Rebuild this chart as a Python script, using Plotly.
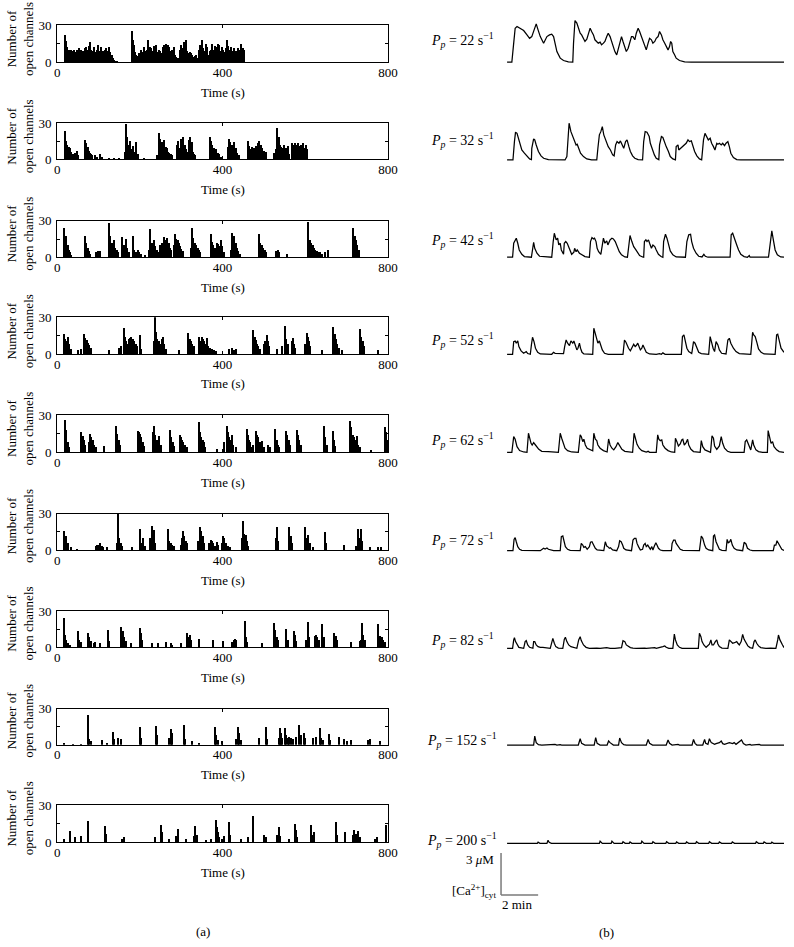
import plotly.graph_objects as go

# ---------------- DATA ----------------
# Left column: number of open channels (time s, count)
pp_labels = ["22", "32", "42", "52", "62", "72", "82", "152", "200"]
x_ticks = [0, 400, 800]
y_ticks = [0, 15, 30]
y_ticktext = ["0", " ", "30"]

open_22 = [(19,22),(20,20),(23,17),(25,12),(28,10),(32,9),(35,10),(38,9),(41,10),(44,8),(48,10),(51,9),(54,11),(57,10),(61,8),(64,9),(67,11),(70,12),(74,10),(77,13),(80,16),(83,10),(86,9),(90,12),(93,8),(96,10),(99,14),(103,9),(106,12),(109,8),(112,9),(116,10),(119,11),(122,9),(125,12),(128,8),(132,6),(135,3),(138,2),(141,1),(145,1),
           (182,25),(184,18),(187,14),(189,8),(191,6),(195,5),(198,7),(201,4),(204,10),(208,8),(211,12),(214,9),(217,10),(221,18),(224,12),(227,11),(230,9),(234,13),(237,11),(240,14),(243,8),(246,10),(250,9),(253,7),(256,12),(259,14),(263,15),(266,13),(269,14),(272,12),(276,9),(279,10),(282,12),(285,6),(288,4),(292,3),(295,2),(298,10),(301,14),(305,11),(308,16),(311,18),(314,9),(318,7),(321,8),(324,7),(327,6),(330,4),(334,5),(337,6),(340,3),(343,10),(347,14),(350,18),(353,11),(356,9),(360,15),(363,12),(366,6),(369,9),(372,10),(376,15),(379,10),(382,13),(385,12),(389,15),(392,14),(395,9),(398,12),(402,10),(405,8),(408,11),(411,18),(414,13),(418,10),(421,12),(424,9),(427,11),(431,8),(434,9),(437,11),(440,10),(444,15),(447,10),(450,11),(452,10)]

open_32 = [(19,23),(22,15),(25,12),(28,10),(31,9),(35,6),(38,4),(43,5),(48,7),(52,3),
           (69,16),(71,13),(74,10),(77,7),(80,5),(83,4),(86,3),(91,3),(97,2),(105,4),(109,2),
           (125,1),(137,1),(149,1),
           (164,6),(168,29),(170,18),(174,12),(177,15),(180,8),(183,11),(187,6),(191,14),(195,4),(210,1),
           (242,3),(246,22),(250,17),(253,14),(256,12),(259,16),(263,10),(266,9),(269,6),(272,5),(275,4),(279,3),
           (291,12),(293,15),(296,9),(300,17),(303,10),(306,18),(310,12),(313,8),(316,6),(319,16),(322,18),(326,14),(329,6),(332,4),(335,3),
           (370,18),(372,15),(376,12),(379,9),(382,7),(385,8),(389,5),(392,4),(397,2),
           (414,10),(416,17),(419,14),(423,12),(426,8),(429,14),(432,9),(435,5),(440,3),
           (461,15),(465,11),(468,8),(471,10),(474,9),(477,9),(481,11),(485,13),(489,15),(493,12),(497,9),(501,7),(505,6),
           (525,5),(529,8),(533,26),(536,18),(539,12),(542,10),(545,9),(549,12),(552,8),(555,9),(558,11),(562,4),
           (568,13),(571,12),(576,13),(579,12),(584,13),(587,11),(591,12),(595,13),(599,9),(602,12),(604,8)]

open_42 = [(18,24),(20,14),(23,18),(26,10),(28,6),(31,4),(35,2),
           (69,18),(71,12),(74,8),(77,5),(80,3),(94,4),(99,5),(105,5),
           (127,28),(129,18),(132,12),(135,10),(138,14),(141,8),(145,6),(148,4),
           (158,17),(161,10),(164,6),(167,15),(170,8),(174,4),
           (183,18),(187,6),(190,4),(195,6),(198,4),(204,3),(214,2),
           (222,6),(226,23),(229,12),(232,10),(235,14),(238,9),(242,6),(245,4),
           (250,10),(254,12),(259,17),(261,14),(264,10),(267,16),(271,12),(274,8),(277,6),
           (282,10),(285,19),(288,15),(292,14),(295,12),(298,9),(301,7),(305,5),
           (323,8),(327,24),(330,16),(334,12),(337,10),(340,8),(343,6),(347,4),
           (372,19),(374,13),(377,10),(381,8),(384,7),(387,12),(390,11),(393,9),(397,14),(400,9),(404,4),
           (420,6),(424,20),(427,15),(429,18),(432,12),(435,8),(439,5),(442,3),
           (489,19),(492,12),(495,10),(498,8),(502,6),(505,4),
           (529,5),(534,6),(537,4),(557,3),
           (606,29),(608,16),(612,14),(615,12),(618,10),(621,8),(625,6),(628,5),(631,4),(636,4),(642,3),(649,4),(655,6),
           (715,12),(717,24),(720,18),(723,14),(726,10),(730,6)]

open_52 = [(18,16),(20,12),(23,10),(27,14),(30,8),(33,4),(51,3),(57,4),
           (66,16),(69,13),(72,11),(75,9),(78,7),(82,5),(125,3),(151,5),(156,6),
           (161,21),(164,14),(167,10),(170,8),(174,12),(177,13),(180,14),(183,12),(187,10),(190,8),(193,6),(200,15),(203,4),
           (234,10),(237,30),(240,18),(243,12),(246,10),(250,8),(253,12),(256,14),(259,8),(263,4),(295,3),
           (318,17),(321,12),(324,10),(327,8),(331,6),
           (343,14),(347,10),(350,14),(353,12),(356,10),(360,8),(363,13),(366,6),(369,5),(374,4),(379,3),(384,2),
           (416,4),(423,5),(429,3),(434,4),
           (474,19),(478,14),(481,11),(484,8),(487,6),(491,4),
           (500,8),(503,10),(507,15),(510,10),(513,6),(533,4),
           (545,6),(552,23),(555,12),(558,8),(568,10),(570,13),(573,8),(576,5),
           (600,8),(604,17),(607,14),(610,10),(613,6),(641,3),
           (668,22),(672,16),(675,12),(678,8),(681,5),(689,3),
           (733,20),(736,14),(739,10),(743,6),(776,3)]

open_62 = [(19,26),(21,18),(23,12),(27,8),(30,4),
           (57,16),(59,15),(62,13),(65,10),(69,6),
           (77,8),(81,15),(83,12),(87,10),(90,6),(95,4),(113,5),
           (144,21),(146,15),(150,10),(153,6),
           (196,17),(199,16),(201,15),(204,12),(208,8),(211,5),
           (232,16),(235,21),(238,14),(242,10),(245,8),(248,13),(251,6),
           (274,18),(277,12),(280,8),(284,5),
           (297,14),(300,12),(303,10),(306,8),(310,6),(314,4),
           (343,24),(346,16),(348,12),(352,10),(355,8),(358,4),(388,3),
           (404,8),(410,21),(413,16),(416,12),(419,10),(423,14),(426,6),(432,4),
           (459,19),(461,14),(465,10),(468,8),(471,4),
           (474,6),(481,17),(484,14),(487,12),(491,8),(494,6),(497,9),(500,4),(510,6),(515,4),
           (528,19),(531,10),(534,6),(537,4),
           (554,17),(557,14),(560,10),(563,6),
           (580,18),(583,14),(586,10),(589,6),
           (646,21),(649,12),(652,6),(667,17),(670,10),(673,5),
           (709,25),(712,20),(715,14),(718,12),(722,10),(725,13),(728,6),(733,4),(760,2),
           (794,20),(796,16),(798,10)]

open_72 = [(18,16),(20,10),(23,12),(27,6),(33,3),(49,1),
           (95,4),(98,5),(101,5),(104,6),(108,4),(111,3),(121,3),
           (145,6),(148,30),(151,10),(154,6),(158,4),(182,3),
           (202,18),(205,6),(209,10),(212,4),
           (226,10),(229,20),(232,12),(235,17),(238,6),
           (268,18),(272,8),(275,6),(278,5),(282,4),
           (299,5),(303,10),(305,16),(308,12),(311,8),(314,6),
           (342,8),(345,19),(348,16),(352,12),(355,6),
           (368,6),(372,9),(375,8),(378,6),(381,4),(386,7),(390,5),
           (398,6),(402,12),(405,10),(408,6),(413,4),(418,3),
           (448,10),(450,24),(453,14),(457,13),(460,8),(463,4),
           (529,10),(531,19),(534,8),(560,12),(562,19),(565,12),(568,6),
           (600,19),(602,10),(608,13),(612,6),(618,3),
           (647,15),(650,6),(695,5),
           (722,4),(727,18),(732,10),(735,18),(738,8),
           (756,3),(776,3),(784,3)]

open_82 = [(18,24),(20,10),(23,6),(27,3),(32,2),
           (51,13),(54,6),(57,4),
           (75,12),(78,8),(82,5),(89,3),(93,4),(105,3),
           (124,14),(127,5),
           (156,17),(159,13),(162,8),(166,5),(179,3),
           (200,16),(203,12),(206,6),
           (230,3),(245,3),(263,4),(275,3),(279,2),(299,3),
           (314,12),(318,8),(321,10),(324,6),(343,7),(377,6),(402,5),
           (423,4),(427,6),(431,7),(434,6),
           (454,22),(457,8),(460,4),(497,3),
           (525,20),(528,14),(531,8),(534,6),
           (555,15),(558,6),(574,13),(576,10),(579,5),
           (602,6),(607,21),(610,8),
           (623,9),(626,10),(629,8),(633,6),
           (642,19),(646,8),(671,12),(675,9),(678,6),(711,4),
           (732,5),(735,6),(738,20),(741,10),(744,6),
           (776,19),(778,8),(781,9),(785,8),(788,6),(792,4)]

open_152 = [(18,2),(40,1),(57,1),
            (75,25),(78,5),(82,3),(108,4),(121,2),
            (135,11),(138,5),(147,6),(154,5),
            (200,15),(203,6),(240,16),(243,8),
            (272,6),(276,13),(279,10),(307,17),(310,5),(327,3),(343,2),
            (382,15),(385,8),(389,4),(400,3),
            (434,5),(437,15),(440,10),(444,4),(489,6),
            (506,15),(508,5),
            (536,6),(539,14),(542,10),(545,6),
            (552,14),(555,8),(558,6),(562,7),(566,6),(571,5),(578,7),
            (586,17),(589,8),(597,10),(600,6),(618,6),(626,7),
            (636,14),(639,6),(644,4),(657,9),(660,4),
            (683,7),(695,5),(701,3),(711,4),(751,4),(756,5),(780,3)]

open_200 = [(16,3),(32,9),(43,4),(57,5),(75,17),
            (116,13),(119,7),(158,3),(162,4),(237,4),
            (252,14),(255,8),(271,3),(289,5),(292,11),(311,3),
            (331,5),(335,13),(339,6),(360,2),(372,3),
            (384,18),(386,12),(390,8),(393,4),(400,3),(405,5),
            (415,16),(418,6),(444,3),(463,4),(473,21),
            (501,6),(505,4),(533,6),(536,12),(539,5),(560,3),
            (575,15),(578,10),(581,4),(614,14),(618,6),(621,8),
            (675,16),(677,6),(697,8),
            (717,6),(719,10),(723,7),(727,9),(732,4),
            (768,3),(773,4),(796,14)]

# Right column: cytosolic Ca2+ (time s, concentration uM)
ca_22 = [(0,0),(13,0),(18,1.36),(22,2.43),(27,2.55),(31,2.48),(36,2.36),(45,2.26),(54,1.95),(61,1.71),(67,1.83),(72,2.19),(79,2.74),(84,2.31),(90,1.83),(99,1.36),(103,1.6),(108,1.83),(115,1.95),(121,2.0),(126,1.83),(130,1.36),(135,0.76),(144,0.29),(153,0.12),(166,0.02),(178,0),
         (180,1.36),(184,2.98),(189,2.79),(193,2.43),(198,2.07),(202,1.95),(207,1.71),(211,1.48),(216,1.64),(220,2.07),(225,2.43),(229,2.19),(234,1.95),(238,1.6),(243,1.48),(247,1.36),(252,1.43),(256,1.24),(261,1.36),(265,1.48),(270,1.83),(274,2.07),(279,1.83),(283,1.48),(288,1.12),(292,0.76),(297,0.52),(301,0.88),(305,1.36),(310,1.83),(314,1.48),(319,1.12),(323,0.76),(328,1.0),(332,1.48),(337,1.83),(341,1.83),(346,1.6),(350,2.07),(355,2.43),(359,2.19),(364,1.83),(368,1.48),(373,1.12),(377,0.88),(382,1.36),(386,1.71),(391,1.6),(395,1.36),(400,1.48),(404,1.71),(409,1.83),(413,2.19),(418,1.95),(422,1.6),(427,1.36),(431,1.12),(436,0.88),(440,1.12),(443,1.48),(446,1.36),(449,0.76),(454,0.52),(458,0.29),(467,0.12),(481,0.02),(499,0),(750,0)]

ca_32 = [(0,0),(16,0),(20,1.31),(23,1.98),(27,1.90),(31,1.55),(36,1.07),(40,0.71),(47,0.48),(54,0.24),(61,0.07),(66,0.02),(67,0.83),(72,1.50),(75,1.43),(79,1.07),(85,0.60),(92,0.29),(99,0.12),(112,0.02),(157,0),(162,0.24),(164,1.31),(168,2.62),(173,2.02),(178,1.67),(184,1.31),(187,1.07),(190,1.12),(194,0.83),(199,0.48),(207,0.24),(216,0.07),(229,0),(243,0),(246,0.83),(250,1.79),(254,2.02),(258,2.38),(262,1.79),(268,1.31),(274,0.95),(280,0.71),(286,0.36),(290,0.29),(294,1.07),(298,1.31),(303,1.19),(307,1.36),(312,1.07),(316,0.83),(321,1.31),(325,1.43),(330,0.95),(334,0.60),(340,0.29),(346,0.12),(355,0.02),(367,0),(370,1.31),(374,2.02),(379,1.98),(385,1.67),(388,1.19),(394,0.71),(399,0.36),(404,0.12),(411,0.02),(413,1.07),(418,1.67),(422,1.60),(427,1.31),(431,0.95),(437,0.60),(442,0.24),(449,0.07),(456,0),(458,0.95),(463,1.07),(465,0.71),(470,0.83),(474,0.95),(481,1.07),(485,1.19),(490,1.43),(494,1.31),(499,1.36),(503,0.95),(508,0.60),(514,0.29),(521,0.07),(527,0),(532,1.43),(536,1.90),(541,1.67),(545,1.43),(550,1.55),(554,1.19),(559,0.95),(563,0.71),(568,1.19),(571,1.12),(575,1.19),(580,1.07),(584,1.19),(589,1.02),(593,1.19),(598,1.31),(602,0.95),(606,0.48),(613,0.17),(622,0.02),(633,0),(750,0)]

ca_42 = [(0,0),(15,0),(18,1.0),(22,1.24),(25,1.36),(29,1.0),(33,0.52),(40,0.21),(47,0.05),(66,0),(69,0.76),(72,1.07),(75,0.64),(81,0.29),(88,0.07),(108,0),(121,0),(125,1.12),(128,1.71),(133,1.24),(137,1.36),(140,0.88),(144,1.0),(147,0.52),(153,0.21),(155,1.0),(159,1.12),(163,1.0),(166,0.76),(171,0.52),(175,0.21),(181,0.36),(183,0.64),(187,0.40),(190,0.52),(196,0.29),(202,0.17),(211,0.05),(223,0),(226,1.12),(230,1.40),(234,1.31),(237,1.36),(241,1.12),(244,0.64),(248,0.40),(254,0.21),(258,1.12),(261,1.36),(265,1.0),(270,1.17),(273,0.88),(279,1.24),(284,1.36),(288,1.31),(293,1.12),(298,0.76),(304,0.40),(310,0.17),(319,0.02),(326,0),(330,1.12),(333,1.55),(338,1.12),(343,0.76),(349,0.52),(354,0.29),(359,0.12),(367,0.02),(370,0),(372,1.12),(376,1.24),(379,1.12),(383,1.24),(386,1.0),(391,0.64),(395,0.88),(400,0.76),(404,0.52),(410,0.21),(417,0.05),(422,0),(424,1.12),(429,1.64),(433,1.36),(437,0.88),(442,0.45),(449,0.17),(458,0.02),(483,0),(487,1.12),(492,1.60),(497,1.64),(500,1.12),(505,0.64),(512,0.29),(519,0.07),(528,0.02),(533,0.21),(537,0.07),(544,0),(604,0),(607,1.60),(611,1.71),(615,1.36),(618,1.24),(622,0.88),(627,0.52),(633,0.21),(642,0.05),(651,0),(656,0.12),(658,0),(708,0),(712,0.88),(717,1.88),(722,1.12),(726,0.52),(732,0.17),(741,0.02),(750,0)]

ca_52 = [(0,0),(15,0),(18,0.90),(22,0.95),(25,0.79),(29,0.95),(32,0.55),(38,0.24),(45,0.07),(52,0.19),(56,0.05),(63,0),(66,0.67),(69,1.21),(73,0.90),(77,0.43),(83,0.14),(90,0.02),(121,0),(126,0.14),(130,0.07),(153,0.05),(156,0.55),(160,1.02),(164,0.79),(169,0.62),(173,0.95),(178,0.79),(181,0.95),(185,0.67),(189,0.31),(192,0.43),(196,0.79),(199,0.43),(203,0.14),(208,0.02),(232,0),(235,1.86),(239,1.38),(243,1.02),(246,0.79),(250,0.95),(253,0.67),(258,0.31),(264,0.07),(274,0),(314,0),(318,1.02),(322,0.86),(325,0.62),(329,0.43),(334,0.24),(338,0.43),(343,0.71),(347,0.55),(350,0.62),(354,0.79),(358,0.55),(361,0.31),(365,0.43),(368,0.67),(372,0.43),(377,0.14),(386,0.02),(404,0),(413,0.05),(418,0),(422,0.10),(428,0),(472,0),(475,1.26),(479,1.38),(483,0.79),(487,0.43),(492,0.19),(500,0.05),(501,0.19),(505,0.90),(509,0.79),(514,0.43),(519,0.14),(526,0.05),(546,0),(550,1.26),(554,0.79),(558,0.43),(562,0.19),(566,0.90),(571,0.67),(575,0.31),(581,0.07),(593,0.02),(598,1.02),(602,1.14),(606,0.79),(613,0.43),(620,0.19),(629,0.05),(660,0),(665,1.57),(668,1.38),(672,1.26),(677,0.79),(681,0.38),(688,0.14),(696,0.02),(726,0),(730,1.38),(733,1.43),(737,0.90),(742,0.43),(750,0.14)]

ca_62 = [(0,0),(13,0),(18,1.12),(22,0.93),(27,0.40),(34,0.12),(45,0.02),(54,0),(58,1.36),(61,0.93),(65,0.64),(68,0.52),(72,0.69),(77,0.52),(81,0.40),(86,0.21),(94,0.07),(108,0.02),(112,0.05),(139,0),(144,1.36),(148,1.0),(153,0.52),(157,0.29),(164,0.12),(175,0.02),(193,0),(198,1.24),(201,1.12),(205,0.76),(208,0.93),(212,0.52),(217,0.29),(225,0.17),(232,0.10),(235,1.36),(239,0.93),(243,0.83),(246,0.52),(252,0.29),(261,0.12),(271,0.02),(275,0.95),(279,0.52),(284,0.29),(289,0.17),(295,0.40),(300,0.69),(305,0.45),(311,0.21),(319,0.07),(328,0.02),(340,0),(344,1.36),(348,1.0),(352,0.57),(358,0.29),(365,0.12),(377,0.02),(382,0.07),(386,0),(404,0),(408,1.24),(411,0.93),(415,0.83),(419,0.88),(422,0.52),(428,0.29),(436,0.12),(445,0.02),(454,0),(456,1.0),(460,0.76),(464,0.45),(469,0.60),(473,0.88),(476,0.93),(480,0.52),(485,0.69),(489,0.93),(492,0.52),(498,0.21),(505,0.05),(514,0),(523,0),(526,0.83),(530,0.40),(536,0.17),(544,0.05),(551,0),(555,1.17),(559,1.0),(562,0.45),(568,0.21),(575,0.45),(580,1.12),(584,0.64),(589,0.29),(597,0.07),(606,0),(642,0),(645,0.76),(649,0.88),(654,0.52),(660,0.17),(665,0.88),(668,0.52),(674,0.17),(681,0.05),(692,0),(705,0),(707,1.55),(712,0.88),(715,0.64),(719,0.76),(723,0.40),(730,0.17),(737,0.05),(750,0)]

ca_72 = [(0,0),(16,0),(19,0.81),(22,0.93),(25,0.64),(29,0.29),(34,0.10),(40,0.02),(90,0),(94,0.10),(99,0.17),(103,0.12),(108,0.19),(112,0.10),(117,0.05),(126,0),(144,0),(147,1.0),(151,1.05),(155,0.64),(158,0.29),(164,0.10),(171,0.02),(198,0),(201,0.52),(205,0.40),(208,0.24),(212,0.29),(217,0.10),(223,0.29),(226,0.60),(230,0.64),(234,0.40),(239,0.17),(244,0.05),(262,0),(266,0.64),(270,0.33),(273,0.29),(277,0.17),(280,0.21),(286,0.05),(297,0),(302,0.29),(305,0.71),(309,0.64),(313,0.40),(316,0.17),(322,0.05),(337,0),(341,0.76),(345,0.88),(349,0.88),(352,0.52),(356,0.29),(361,0.05),(367,0.10),(370,0.40),(374,0.52),(377,0.29),(381,0.40),(385,0.17),(388,0.10),(392,0.29),(395,0.05),(399,0.33),(403,0.57),(406,0.40),(410,0.17),(415,0.05),(422,0),(445,0),(447,0.52),(451,0.76),(455,0.76),(458,0.52),(464,0.29),(469,0.10),(476,0.02),(521,0),(526,1.05),(530,0.88),(535,0.40),(539,0.17),(546,0.05),(557,0),(559,1.05),(562,1.12),(566,0.64),(571,0.29),(575,0.10),(582,0.02),(593,0),(596,0.81),(599,0.57),(603,0.64),(606,0.81),(610,0.40),(615,0.17),(622,0.05),(638,0),(642,0.60),(647,0.48),(651,0.17),(658,0.05),(665,0),(690,0),(694,0.05),(696,0),(721,0),(724,0.40),(728,0.40),(731,0.71),(735,0.52),(739,0.29),(744,0.10),(750,0.02)]

ca_82 = [(0,0),(15,0),(18,0.60),(20,0.76),(23,0.48),(27,0.24),(32,0.07),(45,0),(49,0.48),(52,0.55),(56,0.24),(61,0.07),(70,0),(72,0.48),(75,0.48),(79,0.24),(84,0.12),(90,0.07),(97,0.07),(117,0),(120,0.36),(124,0.71),(128,0.36),(132,0.12),(139,0.02),(151,0),(155,0.64),(158,0.79),(162,0.48),(167,0.24),(173,0.12),(180,0.05),(189,0),(194,0.60),(198,0.83),(201,0.55),(207,0.24),(214,0.07),(223,0),(243,0.02),(252,0),(270,0.05),(279,0),(292,0),(310,0.05),(314,0.55),(319,0.48),(323,0.24),(329,0.12),(334,0.05),(341,0.02),(350,0),(373,0.02),(377,0),(400,0.05),(404,0),(422,0.12),(427,0.17),(431,0.07),(438,0),(449,0),(453,1.02),(456,0.60),(461,0.24),(467,0.07),(474,0),(518,0),(521,1.07),(525,0.83),(528,0.48),(533,0.24),(539,0.07),(548,0.29),(552,0.60),(555,0.24),(559,0.24),(564,0.48),(568,0.60),(571,0.31),(575,0.12),(582,0.02),(598,0),(602,0.60),(606,0.48),(611,0.36),(616,0.40),(622,0.48),(625,0.36),(629,0.24),(634,0.48),(638,1.0),(642,0.64),(647,0.36),(652,0.17),(658,0.05),(665,0),(669,0.48),(672,0.60),(676,0.36),(681,0.17),(687,0.05),(701,0),(714,0.02),(728,0),(733,0.60),(735,0.95),(739,0.60),(742,0.48),(746,0.24),(750,0.05)]

ca_152 = [(0,0),(72,0),(75,0.64),(79,0.17),(85,0.02),(94,0),(130,0.05),(135,0),(144,0.02),(148,0),(193,0),(198,0.45),(202,0.12),(211,0),(236,0),(240,0.52),(244,0.12),(252,0),(271,0),(275,0.29),(279,0.17),(282,0.10),(288,0),(302,0),(305,0.50),(310,0.17),(316,0.02),(323,0),(377,0),(382,0.40),(386,0.12),(394,0),(431,0),(436,0.36),(440,0.12),(447,0),(463,0.05),(467,0),(501,0),(505,0.40),(509,0.12),(514,0),(530,0),(535,0.40),(538,0.12),(544,0.05),(548,0.45),(553,0.17),(557,0.10),(562,0.05),(566,0.10),(575,0.17),(580,0.29),(584,0.10),(589,0.05),(602,0.17),(611,0.10),(615,0.17),(620,0.05),(627,0.17),(631,0.29),(635,0.36),(640,0.10),(647,0),(658,0.05),(661,0),(683,0.05),(687,0),(750,0)]

ca_200 = [(0,0),(7,0),(9,0.05),(14,0),(47,0),(49,0.05),(54,0),(82,0),(84,0.08),(89,0),(108,0),(111,0.22),(114,0.08),(120,0),(250,0),(252,0.15),(258,0),(282,0),(284,0.15),(290,0),(312,0),(314,0.12),(320,0),(331,0),(333,0.1),(338,0),(363,0),(365,0.15),(371,0),(393,0),(395,0.12),(401,0),(430,0),(432,0.12),(438,0),(457,0),(459,0.1),(465,0),(484,0),(486,0.1),(492,0),(511,0),(513,0.12),(519,0),(546,0),(548,0.12),(554,0),(573,0),(575,0.1),(581,0),(608,0),(610,0.1),(616,0),(673,0),(675,0.12),(681,0),(694,0),(696,0.1),(702,0),(715,0),(717,0.08),(722,0),(750,0)]

open_series = [open_22, open_32, open_42, open_52, open_62, open_72, open_82, open_152, open_200]
ca_series = [ca_22, ca_32, ca_42, ca_52, ca_62, ca_72, ca_82, ca_152, ca_200]

# ---------------- LAYOUT ----------------
W, H = 794, 947
FONT = "Liberation Serif"
# target pixel positions (as seen in the finished picture)
left_top = [25.3, 123.3, 221, 317.3, 415, 513.7, 611.3, 708.7, 805]
left_bot = [62.3, 159.3, 257.3, 354, 452.3, 550.3, 647.3, 744.7, 842.3]
right_base = [62.3, 160, 257.3, 354.3, 452.3, 550.7, 648.3, 745, 843.3]
LX0, LX1 = 58, 388
RX0, RX1 = 506.7, 783.9
PX_PER_UM = 14.0
# the photographed page shows the figure slightly reduced and offset; map target pixels back
SX, CX = 0.981, 4.0
SY, CY = 0.984, 7.1

def fx(p):
    return min(1.0, max(0.0, (p - CX) / SX / W))

def fy(p):
    return 1 - (p - CY) / SY / H

def ref(k, n):
    return k + ("" if n == 1 else str(n))

def axkey(k, n):
    return k + "axis" + ("" if n == 1 else str(n))

fig = go.Figure()
layout = dict(width=W, height=H, margin=dict(l=0, r=0, t=0, b=0),
              paper_bgcolor="white", plot_bgcolor="white", showlegend=False,
              font=dict(family=FONT, color="#000000", size=13),
              bargap=0, annotations=[], shapes=[])

tickfont = dict(family=FONT, size=13, color="#000000")
for i in range(9):
    nl, nr = 2 * i + 1, 2 * i + 2
    t, h = zip(*open_series[i])
    fig.add_trace(go.Bar(x=list(t), y=list(h), width=2.8,
                         marker=dict(color="black", line=dict(width=0)),
                         xaxis=ref("x", nl), yaxis=ref("y", nl), hoverinfo="skip"))
    rt, rv = zip(*ca_series[i])
    fig.add_trace(go.Scatter(x=list(rt), y=list(rv), mode="lines",
                             line=dict(color="black", width=1.25),
                             xaxis=ref("x", nr), yaxis=ref("y", nr), hoverinfo="skip"))
    common = dict(showline=True, mirror="ticks", linecolor="black", linewidth=1,
                  ticks="inside", ticklen=3, tickcolor="black", showgrid=False,
                  zeroline=False, tickfont=tickfont, fixedrange=True)
    layout[axkey("x", nl)] = dict(domain=[fx(LX0), fx(LX1)], range=[0, 800],
                                  anchor=ref("y", nl), tickvals=x_ticks,
                                  ticklabelstandoff=-2, **common)
    layout[axkey("y", nl)] = dict(domain=[fy(left_bot[i]), fy(left_top[i])], range=[0, 30],
                                  anchor=ref("x", nl), tickvals=y_ticks, ticktext=y_ticktext,
                                  ticklabelstandoff=2, **common)
    b = right_base[i] + 1.5
    span = 52.0
    layout[axkey("x", nr)] = dict(domain=[fx(RX0), fx(RX1)], range=[0, 750],
                                  anchor=ref("y", nr), visible=False, fixedrange=True)
    layout[axkey("y", nr)] = dict(domain=[fy(b), fy(b - span)],
                                  range=[-1.5 / PX_PER_UM, (span - 1.5) / PX_PER_UM],
                                  anchor=ref("x", nr), visible=False, fixedrange=True)
    # axis titles and panel labels
    layout["annotations"].append(dict(text="Time (s)", xref="paper", yref="paper",
                                      x=fx((LX0 + LX1) / 2), y=fy(left_bot[i] + 30),
                                      xanchor="center", yanchor="middle", showarrow=False,
                                      font=dict(family=FONT, size=13, color="#000000")))
    layout["annotations"].append(dict(text="Number of<br>open channels", xref="paper", yref="paper",
                                      x=fx(21), y=fy(39 + 97.4 * i), textangle=-90,
                                      xanchor="center", yanchor="middle", showarrow=False,
                                      font=dict(family=FONT, size=13, color="#000000")))
    layout["annotations"].append(dict(text="<i>P</i><sub><i>p</i></sub> = " + pp_labels[i] + " s<sup>\u22121</sup>",
                                      xref="paper", yref="paper",
                                      x=fx(462), y=fy(40 + 100 * i),
                                      xanchor="center", yanchor="middle", showarrow=False,
                                      font=dict(family=FONT, size=14, color="#000000")))

# scale bar and its labels
bar_col = "#7a7a7a"
layout["shapes"].append(dict(type="line", xref="paper", yref="paper",
                             x0=fx(500.7), x1=fx(500.7), y0=fy(853), y1=fy(895),
                             line=dict(color=bar_col, width=1.5)))
layout["shapes"].append(dict(type="line", xref="paper", yref="paper",
                             x0=fx(500.7), x1=fx(537.7), y0=fy(895), y1=fy(895),
                             line=dict(color=bar_col, width=1.5)))
for txt, x, y, xa in [("3 <i>\u03bc</i>M", 496, 859, "right"),
                      ("[Ca<sup>2+</sup>]<sub>cyt</sub>", 498, 891, "right"),
                      ("2 min", 517, 904, "center"),
                      ("(a)", 203, 931, "center"),
                      ("(b)", 606, 932, "center")]:
    layout["annotations"].append(dict(text=txt, xref="paper", yref="paper", x=fx(x), y=fy(y),
                                      xanchor=xa, yanchor="middle", showarrow=False,
                                      font=dict(family=FONT, size=13, color="#000000")))

fig.update_layout(**layout)
page_fix = ("document.documentElement.style.margin='0';document.documentElement.style.padding='0';"
            "document.body.style.margin='0';document.body.style.padding='0';"
            "document.body.style.overflow='hidden';")
fig.write_html("out.html", config={"displayModeBar": False}, post_script=page_fix)
